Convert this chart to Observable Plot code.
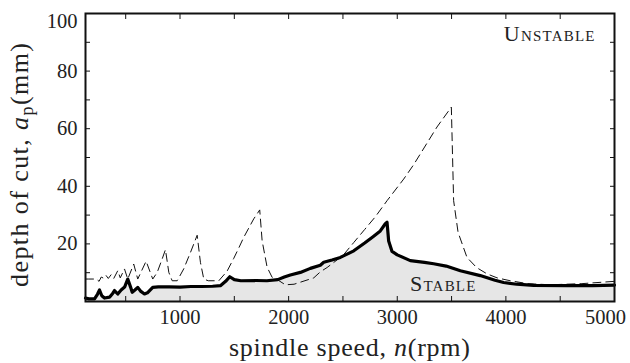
<!DOCTYPE html>
<html><head><meta charset="utf-8">
<script src="https://cdn.jsdelivr.net/npm/d3@7"></script>
<script src="https://cdn.jsdelivr.net/npm/@observablehq/plot@0.6"></script>
<style>body{margin:0;background:#fff}#chart{width:630px;height:363px}</style>
</head><body><div id="chart"></div>
<script>
// Unstable lobes (dashed) — spindle speed (rpm) and depth of cut (mm)
const lobeRpm   = [130, 160, 200, 228, 255, 275, 300, 320, 340, 366, 390, 427, 450, 489, 519, 574, 611, 688, 749, 790, 836, 866, 897, 928, 974, 1034, 1096, 1158, 1188, 1219, 1260, 1357, 1433, 1495, 1540, 1587, 1679, 1734, 1756, 1802, 1848, 1887, 1970, 2050, 2108, 2231, 2292, 2354, 2476, 2507, 2600, 2700, 2800, 2906, 3059, 3151, 3366, 3498, 3519, 3560, 3642, 3730, 3826, 3920, 4041, 4200, 4409, 4700, 5000];
const lobeDepth = [7.8, 7.8, 7.8, 7.8, 7.0, 8.5, 8.0, 9.0, 8.0, 9.3, 8.0, 10.7, 8.2, 11.3, 7.8, 13.0, 7.8, 14.0, 7.8, 10.1, 14.8, 18.0, 10.1, 7.2, 7.2, 11.3, 17.0, 23.0, 13.6, 7.8, 7.2, 7.2, 10.5, 15.0, 18.5, 22.3, 28.7, 31.8, 21.1, 11.9, 8.4, 7.8, 5.8, 6.0, 6.7, 8.2, 10.3, 11.8, 15.3, 16.3, 20.5, 25.0, 29.5, 35.0, 42.5, 47.5, 60.6, 67.5, 35.0, 24.0, 15.3, 11.8, 9.6, 8.2, 7.2, 6.2, 5.8, 6.2, 7.0];
// Stability boundary (solid, shaded below)
const stableRpm   = [130, 160, 213, 240, 259, 280, 305, 351, 380, 397, 427, 458, 490, 519, 545, 560, 585, 611, 640, 673, 700, 749, 800, 900, 1000, 1100, 1200, 1300, 1372, 1420, 1458, 1500, 1560, 1700, 1800, 1900, 1960, 2016, 2108, 2200, 2292, 2323, 2400, 2476, 2600, 2700, 2780, 2844, 2890, 2906, 2921, 2952, 3000, 3120, 3250, 3335, 3450, 3581, 3764, 3900, 3979, 4100, 4255, 4562, 4800, 5000];
const stableDepth = [1.2, 0.9, 0.9, 2.5, 4.0, 2.0, 1.2, 1.5, 2.8, 3.8, 2.6, 4.0, 5.0, 7.8, 5.0, 3.2, 4.0, 4.9, 3.5, 2.6, 3.0, 4.9, 5.1, 5.1, 5.0, 5.2, 5.2, 5.3, 5.5, 7.0, 8.6, 7.6, 7.2, 7.3, 7.2, 7.6, 8.5, 9.2, 10.1, 11.5, 12.6, 13.6, 14.4, 15.3, 17.6, 20.3, 22.6, 24.5, 27.0, 27.5, 21.0, 17.4, 16.2, 14.2, 13.6, 13.1, 12.3, 10.7, 9.0, 7.4, 6.6, 6.0, 5.6, 5.5, 5.5, 5.7];
// Axis ticks
const xMajorTicks = [1000, 2000, 3000, 4000, 5000];
const xMinorTicks = [500, 1500, 2500, 3500, 4500];
const yMajorTicks = [20, 40, 60, 80, 100];
const yMinorTicks = [10, 30, 50, 70, 90];
// Region labels
const regionNames = ["Unstable", "Stable"];
const regionRpm   = [4404, 3424];
const regionDepth = [92.8, 6.2];

const lobes  = lobeRpm.map((r, i) => ({rpm: r, depth: lobeDepth[i]}));
const stable = stableRpm.map((r, i) => ({rpm: r, depth: stableDepth[i]}));
const regions = regionNames.map((t, i) => ({t, rpm: regionRpm[i], depth: regionDepth[i]}));
const xAllTicks = [...xMajorTicks, ...xMinorTicks];
const yAllTicks = [...yMajorTicks, ...yMinorTicks];

const font = "'Liberation Serif','DejaVu Serif',serif";
const W = 630, H = 363, mL = 85, mR = 16, mT = 13, mB = 62;
const fmt = d => String(d);
const tickStyle = {fill: "none", tickSize: -5, label: null, stroke: "#111"};
const labStyle = {tickSize: 0, label: null, fill: "#222", fontSize: 20.5, fontFamily: font, tickFormat: fmt};

const plot = Plot.plot({
  width: W, height: H,
  marginLeft: mL, marginRight: mR, marginTop: mT, marginBottom: mB,
  x: {domain: [130, 5000]},
  y: {domain: [0, 100]},
  style: {fontFamily: font, fontSize: "20px", color: "#222", background: "white", overflow: "visible"},
  marks: [
    Plot.areaY(stable, {x: "rpm", y: "depth", fill: "#e6e6e6"}),
    Plot.line(lobes, {x: "rpm", y: "depth", stroke: "#111", strokeWidth: 1, strokeDasharray: "8,5"}),
    Plot.line(stable, {x: "rpm", y: "depth", stroke: "#000", strokeWidth: 3.2, strokeLinejoin: "round"}),
    Plot.axisX(xAllTicks, {...tickStyle, anchor: "bottom"}),
    Plot.axisX(xAllTicks, {...tickStyle, anchor: "top"}),
    Plot.axisY(yAllTicks, {...tickStyle, anchor: "left"}),
    Plot.axisY(yAllTicks, {...tickStyle, anchor: "right"}),
    Plot.axisX(xMajorTicks.slice(0, 4), {...labStyle, anchor: "bottom", tickPadding: 8}),
    Plot.axisX(xMajorTicks.slice(4), {...labStyle, anchor: "bottom", tickPadding: 8, dx: -9}),
    Plot.axisY(yMajorTicks.slice(0, 4), {...labStyle, anchor: "left", tickPadding: 8}),
    Plot.axisY(yMajorTicks.slice(4), {...labStyle, anchor: "left", tickPadding: 8, dy: 8}),
    Plot.text(regions, {x: "rpm", y: "depth", text: "t", fontVariant: "small-caps", fontSize: 22, fontFamily: font, fill: "#222", textAnchor: "middle", lineAnchor: "middle", className: "region-label"}),
    Plot.frame({stroke: "#111", strokeWidth: 2})
  ]
});
document.getElementById("chart").appendChild(plot);

const svg = d3.select(plot);
svg.selectAll(".region-label text").style("letter-spacing", "1.2px");

// Axis titles with italic symbols
const cx = mL + (W - mL - mR) / 2;
const xl = svg.append("text").attr("x", cx).attr("y", 356)
  .attr("text-anchor", "middle").attr("fill", "#222")
  .attr("textLength", 241).attr("lengthAdjust", "spacing")
  .style("font-family", font).style("font-size", "26px");
xl.append("tspan").text("spindle speed, ");
xl.append("tspan").attr("font-style", "italic").text("n");
xl.append("tspan").text("(rpm)");

const cy = 165;
const yl = svg.append("text").attr("transform", `translate(28,${cy}) rotate(-90)`)
  .attr("text-anchor", "middle").attr("fill", "#222")
  .attr("textLength", 244).attr("lengthAdjust", "spacing")
  .style("font-family", font).style("font-size", "26px");
yl.append("tspan").text("depth of cut, ");
yl.append("tspan").attr("font-style", "italic").text("a");
yl.append("tspan").attr("font-size", "18px").attr("dy", 5).text("p");
yl.append("tspan").attr("dy", -5).text("(mm)");
</script>
</body></html>
